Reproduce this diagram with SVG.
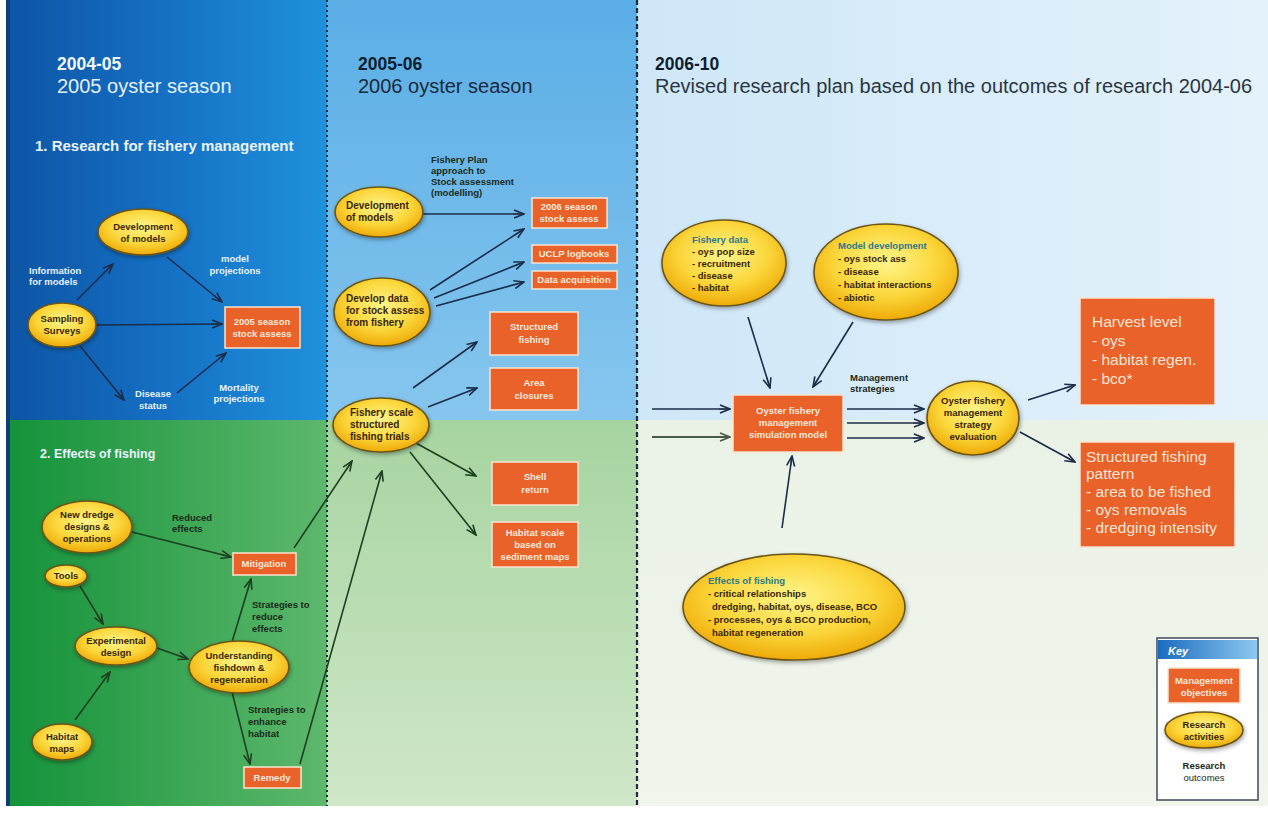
<svg xmlns="http://www.w3.org/2000/svg" width="1268" height="814" viewBox="0 0 1268 814">
<defs>
<linearGradient id="gBlueL" x1="0" y1="0" x2="1" y2="0"><stop offset="0" stop-color="#0d54a4"/><stop offset="0.5" stop-color="#1570c4"/><stop offset="1" stop-color="#1f92dc"/></linearGradient>
<linearGradient id="gGreenL" x1="0" y1="0" x2="1" y2="0"><stop offset="0" stop-color="#14923a"/><stop offset="1" stop-color="#5db86c"/></linearGradient>
<linearGradient id="gBlueM" x1="0" y1="0" x2="0" y2="1"><stop offset="0" stop-color="#5aaee6"/><stop offset="1" stop-color="#86c6ee"/></linearGradient>
<linearGradient id="gGreenM" x1="0" y1="0" x2="0" y2="1"><stop offset="0" stop-color="#a6d4a0"/><stop offset="1" stop-color="#d0e7c8"/></linearGradient>
<linearGradient id="gBlueR" x1="0" y1="0" x2="1" y2="0"><stop offset="0" stop-color="#cfe7f8"/><stop offset="1" stop-color="#e4f2fb"/></linearGradient>
<linearGradient id="gGreenR" x1="0" y1="0" x2="0" y2="1"><stop offset="0" stop-color="#eaf2e6"/><stop offset="1" stop-color="#f1f5ec"/></linearGradient>
<linearGradient id="gKey" x1="0" y1="0" x2="1" y2="0"><stop offset="0" stop-color="#1a6cc0"/><stop offset="1" stop-color="#8cc8f0"/></linearGradient>
<radialGradient id="gEll" cx="0.5" cy="0.4" r="0.6"><stop offset="0" stop-color="#fff58a"/><stop offset="0.6" stop-color="#fbd63a"/><stop offset="1" stop-color="#eeaa08"/></radialGradient>
<filter id="sh" x="-20%" y="-20%" width="140%" height="150%"><feDropShadow dx="1" dy="2" stdDeviation="2" flood-color="#000" flood-opacity="0.35"/></filter>
<marker id="aB" viewBox="0 0 12 10" refX="11" refY="5" markerWidth="12" markerHeight="10" markerUnits="userSpaceOnUse" orient="auto"><path d="M1,1 L11,5 L1,9" fill="none" stroke="#1b2c48" stroke-width="1.6"/><path d="M0,5 H9" stroke="#1b2c48" stroke-width="1"/></marker>
<marker id="aG" viewBox="0 0 12 10" refX="11" refY="5" markerWidth="12" markerHeight="10" markerUnits="userSpaceOnUse" orient="auto"><path d="M1,1 L11,5 L1,9" fill="none" stroke="#1d3f22" stroke-width="1.6"/><path d="M0,5 H9" stroke="#1d3f22" stroke-width="1"/></marker>
<marker id="aY" viewBox="0 0 12 10" refX="11" refY="5" markerWidth="12" markerHeight="10" markerUnits="userSpaceOnUse" orient="auto"><path d="M1,1 L11,5 L1,9" fill="none" stroke="#4a5a48" stroke-width="1.6"/><path d="M0,5 H9" stroke="#4a5a48" stroke-width="1"/></marker>
</defs>
<style>
.hb{font-family:"Liberation Sans",Arial,sans-serif;font-weight:bold;font-size:17.5px}
.hs{font-family:"Liberation Sans",Arial,sans-serif;font-size:20px}
.sec{font-family:"Liberation Sans",Arial,sans-serif;font-weight:bold;fill:#eaf4ff}
.et{font-family:"Liberation Sans",Arial,sans-serif;font-weight:bold;font-size:9.5px;fill:#3a2600;text-anchor:middle}
.etl{font-family:"Liberation Sans",Arial,sans-serif;font-weight:bold;font-size:9.5px;fill:#3a2600}
.etm{font-family:"Liberation Sans",Arial,sans-serif;font-weight:bold;font-size:10px;fill:#3a2600}
.ttl{fill:#2a7a8a}
.bt{font-family:"Liberation Sans",Arial,sans-serif;font-weight:bold;font-size:9.5px;fill:#ffe8d8;text-anchor:middle}
.bigt{font-family:"Liberation Sans",Arial,sans-serif;font-size:15.5px;fill:#ffe4d2}
.lw{font-family:"Liberation Sans",Arial,sans-serif;font-weight:bold;font-size:9.5px;fill:#e8f2ff}
.ld{font-family:"Liberation Sans",Arial,sans-serif;font-weight:bold;font-size:9.5px;fill:#1a2a1a}
.ell{fill:url(#gEll);stroke:#6b5516;stroke-width:1.6;filter:url(#sh)}
.box{fill:#e8622a;stroke:#fbe3d0;stroke-width:1.5}
.cb{fill:none;stroke:#1b2c48;stroke-width:1.6;marker-end:url(#aB)}
.cg{fill:none;stroke:#1d3f22;stroke-width:1.6;marker-end:url(#aG)}
.cy{fill:none;stroke:#4a5a48;stroke-width:2;marker-end:url(#aY)}
</style>
<rect x="0" y="0" width="1268" height="814" fill="#ffffff"/>
<g id="background">
<rect x="6" y="0" width="321" height="420" fill="url(#gBlueL)"/>
<rect x="6" y="420" width="321" height="386" fill="url(#gGreenL)"/>
<rect x="327" y="0" width="310" height="420" fill="url(#gBlueM)"/>
<rect x="327" y="420" width="310" height="386" fill="url(#gGreenM)"/>
<rect x="637" y="0" width="631" height="420" fill="url(#gBlueR)"/>
<rect x="637" y="420" width="631" height="386" fill="url(#gGreenR)"/>
<rect x="6" y="0" width="4" height="806" fill="#0b3f7a"/>
<line x1="327" y1="0" x2="327" y2="806" stroke="#1c2c3c" stroke-width="2" stroke-dasharray="2,3"/>
<line x1="637" y1="0" x2="637" y2="806" stroke="#1c2c3c" stroke-width="2.2" stroke-dasharray="5,3"/>
</g>
<g id="headers">
<text x="57" y="70" class="hb" fill="#f2f8ff">2004-05</text>
<text x="57" y="93" class="hs" fill="#e4f0ff">2005 oyster season</text>
<text x="358" y="70" class="hb" fill="#0e1e30">2005-06</text>
<text x="358" y="93" class="hs" fill="#1a2a3a">2006 oyster season</text>
<text x="655" y="70" class="hb" fill="#0e1e30">2006-10</text>
<text x="655" y="93" class="hs" fill="#2a3642">Revised research plan based on the outcomes of research 2004-06</text>
<text x="35" y="151" class="sec" font-size="15px">1. Research for fishery management</text>
<text x="40" y="458" class="sec" font-size="12.5px">2. Effects of fishing</text>
</g>
<g id="connectors">
<path class="cb" d="M77,300 L113,264"/>
<path class="cb" d="M167,257 L222,302"/>
<path class="cb" d="M96,325 L222,324"/>
<path class="cb" d="M80,346 L124,400"/>
<path class="cb" d="M177,393 L226,353"/>
<path class="cg" d="M132,532 L231,557"/>
<path class="cg" d="M80,586 L103,624"/>
<path class="cg" d="M75,720 L110,672"/>
<path class="cg" d="M157,648 L188,659"/>
<path class="cg" d="M232,642 L251,579"/>
<path class="cg" d="M232,692 L250,764"/>
<path class="cg" d="M294,548 L352,461"/>
<path class="cg" d="M300,764 L382,471"/>
<path class="cb" d="M423,214 L524,214"/>
<path class="cb" d="M430,290 L524,229"/>
<path class="cb" d="M434,298 L524,262"/>
<path class="cb" d="M436,306 L524,282"/>
<path class="cb" d="M413,388 L477,342"/>
<path class="cb" d="M428,407 L477,388"/>
<path class="cg" d="M414,442 L476,476"/>
<path class="cg" d="M410,452 L476,535"/>
<path class="cb" d="M748,317 L770,388"/>
<path class="cb" d="M853,322 L813,387"/>
<path class="cb" d="M652,409 L730,409"/>
<path class="cy" d="M652,437 L730,437"/>
<path class="cb" d="M847,409 L924,409"/>
<path class="cb" d="M847,423 L924,423"/>
<path class="cb" d="M847,438 L924,438"/>
<path class="cb" d="M1028,400 L1075,385"/>
<path class="cb" d="M1020,432 L1075,462"/>
<path class="cb" d="M782,528 L792,456"/>
</g>
<g id="labels">
<text class="lw" x="29" y="274">Information</text>
<text class="lw" x="29" y="285">for models</text>
<text class="lw" x="235" y="262" text-anchor="middle">model</text>
<text class="lw" x="235" y="274" text-anchor="middle">projections</text>
<text class="lw" x="153" y="397" text-anchor="middle">Disease</text>
<text class="lw" x="153" y="409" text-anchor="middle">status</text>
<text class="lw" x="239" y="391" text-anchor="middle">Mortality</text>
<text class="lw" x="239" y="402" text-anchor="middle">projections</text>
<text class="ld" x="172" y="521">Reduced</text>
<text class="ld" x="172" y="532">effects</text>
<text class="ld" x="252" y="608">Strategies to</text>
<text class="ld" x="252" y="620">reduce</text>
<text class="ld" x="252" y="632">effects</text>
<text class="ld" x="248" y="713">Strategies to</text>
<text class="ld" x="248" y="725">enhance</text>
<text class="ld" x="248" y="737">habitat</text>
<text class="ld" x="431" y="163">Fishery Plan</text>
<text class="ld" x="431" y="174">approach to</text>
<text class="ld" x="431" y="185">Stock assessment</text>
<text class="ld" x="431" y="196">(modelling)</text>
<text class="ld" x="850" y="381">Management</text>
<text class="ld" x="850" y="392">strategies</text>
</g>
<g id="n-devmodels1"><ellipse class="ell" cx="143" cy="232" rx="45" ry="23"/><text class="et" x="143" y="230">Development</text><text class="et" x="143" y="242">of models</text></g>
<g id="n-sampling"><ellipse class="ell" cx="62" cy="325" rx="34" ry="22"/><text class="et" x="62" y="322">Sampling</text><text class="et" x="62" y="334">Surveys</text></g>
<g id="n-stock2005"><rect class="box" x="225" y="307" width="75" height="41"/><text class="bt" x="262" y="325">2005 season</text><text class="bt" x="262" y="337">stock assess</text></g>
<g id="n-newdredge"><ellipse class="ell" cx="87" cy="527" rx="45" ry="26"/><text class="et" x="87" y="518">New dredge</text><text class="et" x="87" y="530">designs &amp;</text><text class="et" x="87" y="542">operations</text></g>
<g id="n-mitigation"><rect class="box" x="233" y="553" width="63" height="22"/><text class="bt" x="264" y="567">Mitigation</text></g>
<g id="n-tools"><ellipse class="ell" cx="66" cy="576" rx="21" ry="11"/><text class="et" x="66" y="579">Tools</text></g>
<g id="n-expdesign"><ellipse class="ell" cx="116" cy="646" rx="41" ry="19"/><text class="et" x="116" y="644">Experimental</text><text class="et" x="116" y="656">design</text></g>
<g id="n-understanding"><ellipse class="ell" cx="239" cy="667" rx="50" ry="26"/><text class="et" x="239" y="659">Understanding</text><text class="et" x="239" y="671">fishdown &amp;</text><text class="et" x="239" y="683">regeneration</text></g>
<g id="n-habitatmaps"><ellipse class="ell" cx="62" cy="742" rx="30" ry="18"/><text class="et" x="62" y="740">Habitat</text><text class="et" x="62" y="752">maps</text></g>
<g id="n-remedy"><rect class="box" x="244" y="767" width="57" height="21"/><text class="bt" x="272" y="781">Remedy</text></g>
<g id="n-devmodels2"><ellipse class="ell" cx="379" cy="212" rx="44" ry="25"/><text class="etm" x="346" y="209">Development</text><text class="etm" x="346" y="221">of models</text></g>
<g id="n-stock2006"><rect class="box" x="532" y="198" width="75" height="30"/><text class="bt" x="569" y="210">2006 season</text><text class="bt" x="569" y="222">stock assess</text></g>
<g id="n-logbooks"><rect class="box" x="532" y="245" width="85" height="18"/><text class="bt" x="574" y="257">UCLP logbooks</text></g>
<g id="n-dataacq"><rect class="box" x="532" y="271" width="85" height="18"/><text class="bt" x="574" y="283">Data acquisition</text></g>
<g id="n-developdata"><ellipse class="ell" cx="382" cy="312" rx="48" ry="34"/><text class="etm" x="346" y="302">Develop data</text><text class="etm" x="346" y="314">for stock assess</text><text class="etm" x="346" y="326">from fishery</text></g>
<g id="n-structured"><rect class="box" x="490" y="312" width="88" height="43"/><text class="bt" x="534" y="330">Structured</text><text class="bt" x="534" y="343">fishing</text></g>
<g id="n-areaclosures"><rect class="box" x="490" y="368" width="88" height="42"/><text class="bt" x="534" y="386">Area</text><text class="bt" x="534" y="399">closures</text></g>
<g id="n-fisheryscale"><ellipse class="ell" cx="381" cy="425" rx="48" ry="27"/><text class="etm" x="350" y="416">Fishery scale</text><text class="etm" x="350" y="428">structured</text><text class="etm" x="350" y="440">fishing trials</text></g>
<g id="n-shell"><rect class="box" x="492" y="462" width="86" height="43"/><text class="bt" x="535" y="480">Shell</text><text class="bt" x="535" y="493">return</text></g>
<g id="n-habitatscale"><rect class="box" x="492" y="522" width="86" height="45"/><text class="bt" x="535" y="536">Habitat scale</text><text class="bt" x="535" y="548">based on</text><text class="bt" x="535" y="560">sediment maps</text></g>
<g id="n-fisherydata"><ellipse class="ell" cx="724" cy="263" rx="62" ry="43"/><text class="etl ttl" x="692" y="243">Fishery data</text><text class="etl" x="692" y="255">- oys pop size</text><text class="etl" x="692" y="267">- recruitment</text><text class="etl" x="692" y="279">- disease</text><text class="etl" x="692" y="291">- habitat</text></g>
<g id="n-modeldev"><ellipse class="ell" cx="886" cy="272" rx="72" ry="48"/><text class="etl ttl" x="838" y="249">Model development</text><text class="etl" x="838" y="262">- oys stock ass</text><text class="etl" x="838" y="275">- disease</text><text class="etl" x="838" y="288">- habitat interactions</text><text class="etl" x="838" y="301">- abiotic</text></g>
<g id="n-simmodel"><rect class="box" x="733" y="395" width="110" height="57"/><text class="bt" x="788" y="414">Oyster fishery</text><text class="bt" x="788" y="426">management</text><text class="bt" x="788" y="438">simulation model</text></g>
<g id="n-evaluation"><ellipse class="ell" cx="973" cy="418" rx="46" ry="37"/><text class="et" x="973" y="404">Oyster fishery</text><text class="et" x="973" y="416">management</text><text class="et" x="973" y="428">strategy</text><text class="et" x="973" y="440">evaluation</text></g>
<g id="n-harvest"><rect class="box" x="1080" y="298" width="135" height="107" stroke-width="0"/><text class="bigt" x="1092" y="327">Harvest level</text><text class="bigt" x="1092" y="346">- oys</text><text class="bigt" x="1092" y="365">- habitat regen.</text><text class="bigt" x="1092" y="384">- bco*</text></g>
<g id="n-pattern"><rect class="box" x="1080" y="442" width="155" height="105" stroke-width="0"/><text class="bigt" x="1086" y="462">Structured fishing</text><text class="bigt" x="1086" y="479">pattern</text><text class="bigt" x="1086" y="497">- area to be fished</text><text class="bigt" x="1086" y="515">- oys removals</text><text class="bigt" x="1086" y="533">- dredging intensity</text></g>
<g id="n-effects"><ellipse class="ell" cx="794" cy="607" rx="111" ry="53"/><text class="etl ttl" x="708" y="584">Effects of fishing</text><text class="etl" x="708" y="597">- critical relationships</text><text class="etl" x="712" y="610">dredging, habitat, oys, disease, BCO</text><text class="etl" x="708" y="623">- processes, oys &amp; BCO production,</text><text class="etl" x="712" y="636">habitat regeneration</text></g>
<g id="key">
<rect x="1157" y="638" width="101" height="162" fill="#ffffff" stroke="#3a4a5a" stroke-width="1.5"/>
<rect x="1158" y="640" width="99" height="19" fill="url(#gKey)"/>
<text x="1168" y="655" font-family="Liberation Sans,Arial,sans-serif" font-size="11px" font-weight="bold" font-style="italic" fill="#ffffff">Key</text>
<rect class="box" x="1168" y="668" width="72" height="35"/>
<text class="bt" x="1204" y="684">Management</text><text class="bt" x="1204" y="696">objectives</text>
<ellipse class="ell" cx="1204" cy="730" rx="39" ry="18"/>
<text class="et" x="1204" y="728">Research</text><text class="et" x="1204" y="740">activities</text>
<text class="ld" x="1204" y="769" text-anchor="middle">Research</text>
<text x="1204" y="781" text-anchor="middle" font-family="Liberation Sans,Arial,sans-serif" font-size="9.5px" fill="#1a2a1a">outcomes</text>
</g>
</svg>
